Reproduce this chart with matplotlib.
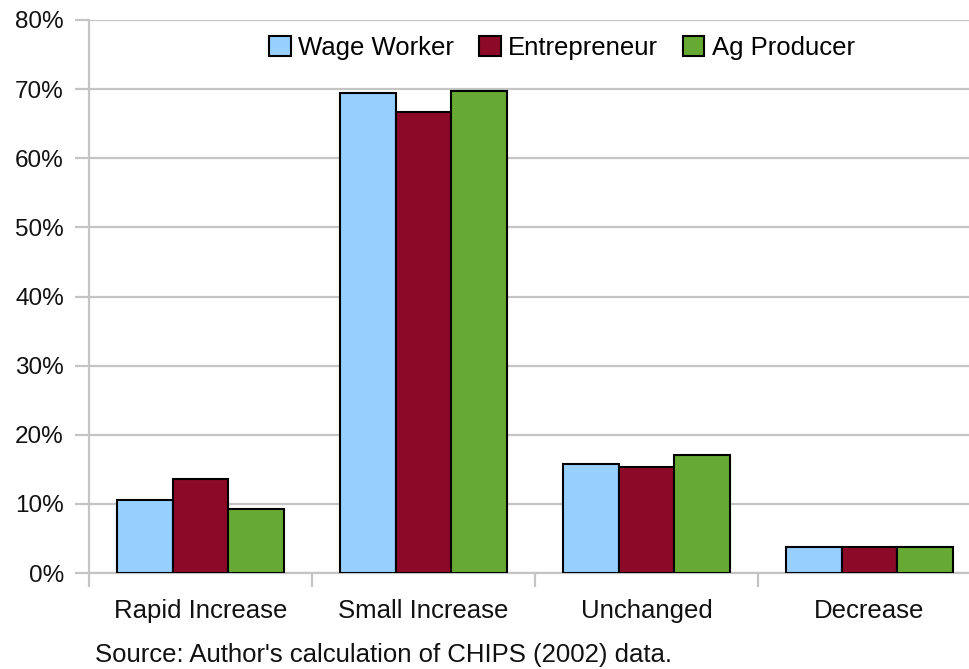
import numpy as np
import matplotlib
matplotlib.use("Agg")
import matplotlib.pyplot as plt
from matplotlib.ticker import FuncFormatter

categories = ["Rapid Increase", "Small Increase", "Unchanged", "Decrease"]
series_names = ["Wage Worker", "Entrepreneur", "Ag Producer"]
wage_worker = [10.5, 69.4, 15.7, 3.7]
entrepreneur = [13.6, 66.7, 15.4, 3.7]
ag_producer = [9.3, 69.7, 17.0, 3.7]
colors = ["#97cfff", "#8c0a27", "#66aa33"]

plt.rcParams["font.family"] = ["Liberation Sans", "DejaVu Sans"]
text_size = 18.5

fig = plt.figure(figsize=(9.69, 6.69), dpi=100)
ax = fig.add_axes([89 / 969, 1 - 573 / 669, 892 / 969, 553 / 669])

x = np.arange(len(categories))
width = 0.25
grid_color = "#c4c4c4"

for i, (vals, name) in enumerate(zip([wage_worker, entrepreneur, ag_producer], series_names)):
    ax.bar(x + (i - 1) * width, vals, width, label=name, color=colors[i],
           edgecolor="black", linewidth=1.5, zorder=3)

ax.set_xlim(-0.5, 3.5)
ax.set_ylim(0, 80)
ax.set_yticks(np.arange(0, 81, 10))
ax.yaxis.set_major_formatter(FuncFormatter(lambda v, _: f"{int(v)}%"))
ax.yaxis.grid(True, color=grid_color, linewidth=1.6, zorder=0)
ax.tick_params(axis="y", length=10, width=1.6, color=grid_color, pad=8,
               labelsize=17.5, labelcolor="#111111")

ax.set_xticks(x)
ax.set_xticklabels(categories)
ax.set_xticks(np.arange(-0.5, 4.0, 1.0), minor=True)
ax.tick_params(axis="x", which="major", length=0, pad=19, labelsize=text_size,
               labelcolor="#111111")
ax.tick_params(axis="x", which="minor", length=10, width=1.6, color=grid_color)

for side in ["top", "right"]:
    ax.spines[side].set_visible(False)
ax.spines["left"].set_color(grid_color)
ax.spines["left"].set_linewidth(1.6)
ax.spines["bottom"].set_color(grid_color)
ax.spines["bottom"].set_linewidth(1.6)

ax.legend(loc="center", bbox_to_anchor=(562 / 969, 1 - 48 / 669),
          bbox_transform=fig.transFigure, ncol=3, frameon=False,
          fontsize=text_size, handlelength=0.85, handleheight=0.85,
          handletextpad=0.3, columnspacing=0.95)

fig.text(95 / 969, 1 - 655 / 669, "Source: Author's calculation of CHIPS (2002) data.",
         fontsize=text_size, color="#111111", va="center", ha="left")

fig.savefig("out.png", dpi=100)
